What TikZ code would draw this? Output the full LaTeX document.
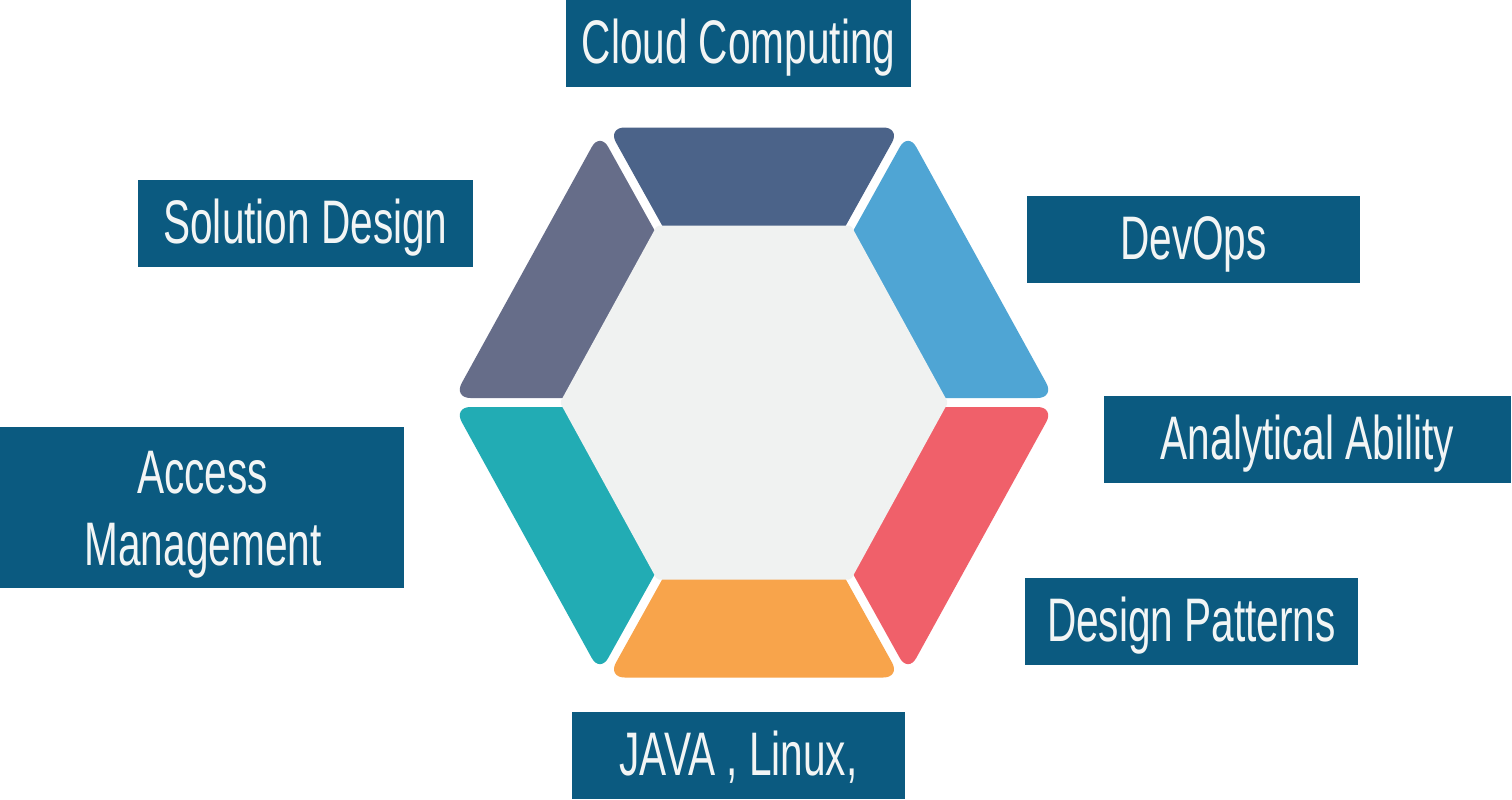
\documentclass[tikz,border=0pt]{standalone}
\usepackage{fontspec}
\newfontfamily\labfont[FakeStretch=0.66]{Liberation Sans}
\definecolor{boxblue}{HTML}{0B5A80}
\definecolor{labwhite}{HTML}{F2F5F5}
\definecolor{segtop}{HTML}{4B6389}
\definecolor{segblue}{HTML}{4FA5D4}
\definecolor{segred}{HTML}{F0606A}
\definecolor{segorange}{HTML}{F8A44B}
\definecolor{segteal}{HTML}{22ACB4}
\definecolor{seggray}{HTML}{666D89}
\definecolor{innerc}{HTML}{F0F2F1}
\begin{document}
\begin{tikzpicture}[x=1pt,y=-1pt,
  lbl/.style={inner sep=0pt, text=labwhite, font=\labfont\fontsize{61.5}{72}\selectfont},
  box/.style={lbl, fill=boxblue, text height=44pt, text depth=4pt},
  seg/.style={rounded corners=17pt}]
\fill[white] (0,0) rectangle (1512,800);
\useasboundingbox (0,0) rectangle (1512,800);

% hexagon segments
\fill[seg, segtop]    (607.65,127.5) -- (900.35,127.5) -- (826.41,260.46) -- (681.59,260.46) -- cycle;
\fill[seg, segblue]   (908.06,132.15) -- (1054.52,398) -- (905.53,398) -- (834.11,265.12) -- cycle;
\fill[seg, segred]    (1054.52,407) -- (908.06,672.85) -- (834.11,539.88) -- (905.53,407) -- cycle;
\fill[seg, segorange] (900.35,677.5) -- (607.65,677.5) -- (681.59,544.54) -- (826.41,544.54) -- cycle;
\fill[seg, segteal]   (599.94,672.85) -- (453.48,407) -- (602.47,407) -- (673.89,539.88) -- cycle;
\fill[seg, seggray]   (453.48,398) -- (599.94,132.15) -- (673.89,265.12) -- (602.47,398) -- cycle;

% inner hexagon
\fill[innerc, rounded corners=2pt] (657,225.5) -- (851,225.5) -- (948,402.5) -- (851,579.5) -- (657,579.5) -- (560,402.5) -- cycle;

% labels
\node[box, minimum width=345pt, minimum height=87pt] (cc) at (738.5,43.5) {Cloud Computing};
\node[box, minimum width=335pt, minimum height=87pt] (sd) at (305.5,223.5) {Solution Design};
\node[box, minimum width=333pt, minimum height=87pt] (dv) at (1193.5,239.5) {DevOps};
\node[box, minimum width=407pt, minimum height=87pt] (aa) at (1307.5,439.5) {Analytical Ability};
\node[box, minimum width=333pt, minimum height=87pt] (dp) at (1191.5,621.5) {Design Patterns};
\node[box, minimum width=333pt, minimum height=87pt] (jv) at (738.5,755.5) {JAVA , Linux,};
\node[fill=boxblue, inner sep=0pt, minimum width=404pt, minimum height=161pt] (am) at (202,507.5) {};
\node[lbl, anchor=base] (am1) at (202.5,493) {Access};
\node[lbl, anchor=base] (am2) at (203,565) {Management};
\end{tikzpicture}
\end{document}
